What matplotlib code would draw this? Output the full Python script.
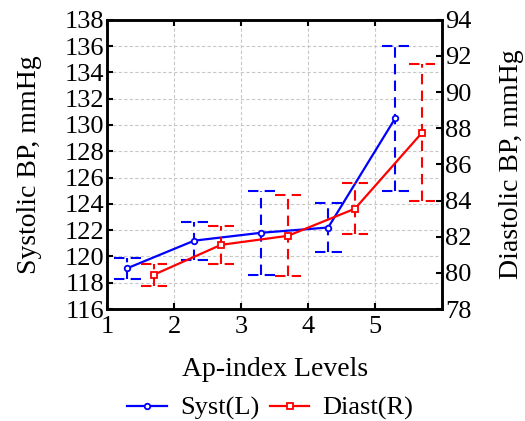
import numpy as np
import matplotlib.pyplot as plt

# ---------------------------
# Data
# ---------------------------
levels = [1, 2, 3, 4, 5]
x_syst = [1.3, 2.3, 3.3, 4.3, 5.3]
x_diast = [1.7, 2.7, 3.7, 4.7, 5.7]

syst_mean = [119.1, 121.2, 121.8, 122.2, 130.5]
syst_err = [0.8, 1.45, 3.2, 1.9, 5.5]

diast_mean = [79.9, 81.55, 82.05, 83.55, 87.75]
diast_err = [0.6, 1.05, 2.25, 1.4, 3.8]

cap = 0.2  # half width of the dashed caps, x units

plt.rcParams['font.family'] = ['Liberation Serif', 'DejaVu Serif']

fig = plt.figure(figsize=(5.25, 4.21), dpi=100)
ax1 = fig.add_axes([0.204, 0.266, 0.638, 0.687])
ax2 = ax1.twinx()


def dashed_bars(ax, x, m, e, color):
    x = np.array(x)
    lo = np.array(m) - np.array(e)
    hi = np.array(m) + np.array(e)
    ls = (0, (5, 3))
    ax.vlines(x, lo, hi, colors=color, linestyles=ls, linewidth=1.5)
    ax.hlines(lo, x - cap, x + cap, colors=color, linestyles=ls, linewidth=1.5)
    ax.hlines(hi, x - cap, x + cap, colors=color, linestyles=ls, linewidth=1.5)


# ---------------------------
# Systolic (left axis)
# ---------------------------
dashed_bars(ax1, x_syst, syst_mean, syst_err, 'blue')
l1, = ax1.plot(x_syst, syst_mean, color='blue', lw=1.6, marker='o',
               ms=4, mfc='white', mec='blue', mew=1.3, label='Syst(L)')

# ---------------------------
# Diastolic (right axis)
# ---------------------------
dashed_bars(ax2, x_diast, diast_mean, diast_err, 'red')
l2, = ax2.plot(x_diast, diast_mean, color='red', lw=1.6, marker='s',
               ms=4, mfc='white', mec='red', mew=1.3, label='Diast(R)')

ax1.set_xlim(1, 6)
ax1.set_xticks(levels)
ax1.set_ylim(116, 138)
ax1.set_yticks(np.arange(116, 139, 2))
ax2.set_ylim(78, 94)
ax2.set_yticks(np.arange(78, 95, 2))

ax1.grid(True, color='#c8c8c8', linestyle=(0, (3, 2)), linewidth=0.8)
ax1.set_axisbelow(True)

ax1.tick_params(axis='x', direction='in', top=True, labelsize=19, length=4, width=1.5, pad=5)
ax1.tick_params(axis='y', direction='in', labelsize=19, length=4, width=1.5, pad=2)
ax2.tick_params(axis='y', direction='in', labelsize=19, length=4, width=1.5, pad=2)

for ax in (ax1, ax2):
    for s in ax.spines.values():
        s.set_linewidth(1.8)

ax1.set_xlabel('Ap-index Levels', fontsize=20, labelpad=14)
ax1.set_ylabel('Systolic BP, mmHg', fontsize=20, labelpad=16)
ax2.set_ylabel('Diastolic BP, mmHg', fontsize=20, labelpad=20)

fig.legend(handles=[l1, l2], loc='lower center', bbox_to_anchor=(0.515, -0.055),
           ncol=2, frameon=False, fontsize=19, handlelength=1.5,
           handletextpad=0.5, columnspacing=0.4)

fig.savefig('out.png', dpi=100)
